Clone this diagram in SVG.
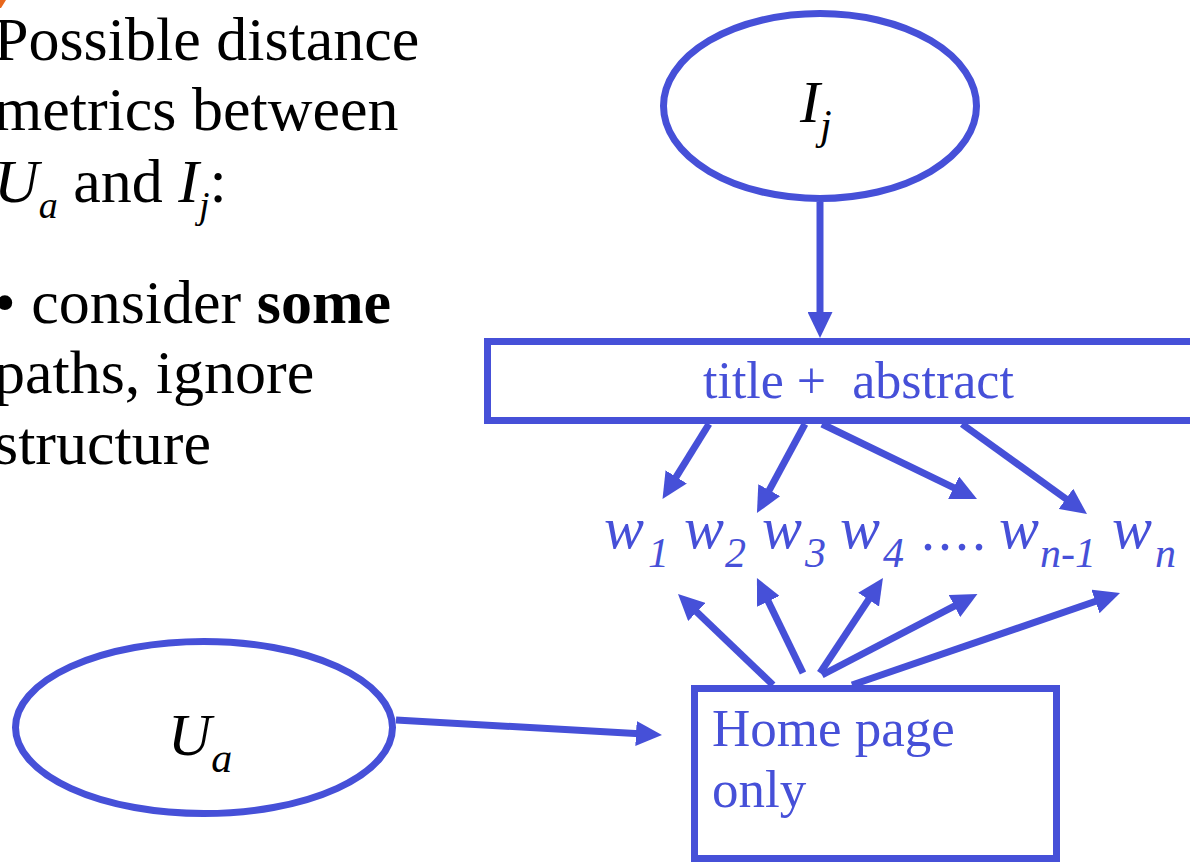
<svg xmlns="http://www.w3.org/2000/svg" width="1190" height="863" viewBox="0 0 1190 863">
<style>
.shape{fill:none;stroke:#4650d8;stroke-width:7}
.conn{stroke:#4650d8;stroke-width:7;fill:none;marker-end:url(#ah)}
.serif{font-family:"Liberation Serif","Times New Roman",serif}
.blk{fill:#000}
.blue{fill:#4650d8}
.it{font-style:italic}
</style>
<defs>
<marker id="ah" viewBox="0 0 26 25" refX="8" refY="12.5" markerWidth="26" markerHeight="25" markerUnits="userSpaceOnUse" orient="auto">
<path d="M0,0 L26,12.5 L0,25 z" fill="#4650d8"/>
</marker>
</defs>
<rect width="1190" height="863" fill="#fff"/>
<polygon points="0,0 6,0 1,8 0,8" fill="#e8671c"/>
<g id="left-text" class="serif blk" font-size="62">
<text x="-6" y="60">Possible distance</text>
<text x="-6" y="130">metrics between</text>
<text x="-6" y="202"><tspan class="it">U</tspan><tspan class="it" font-size="38" dy="16">a</tspan><tspan dy="-16"> and </tspan><tspan class="it">I</tspan><tspan class="it" font-size="38" dy="16">j</tspan><tspan dy="-16">:</tspan></text>
<text x="-6" y="323">• consider <tspan font-weight="bold">some</tspan></text>
<text x="-6" y="393">paths, ignore</text>
<text x="-6" y="464">structure</text>
</g>
<g id="connectors">
<line class="conn" x1="820" y1="202" x2="820" y2="320"/>
<line class="conn" x1="709" y1="424" x2="672" y2="483.7"/>
<line class="conn" x1="805" y1="424" x2="765.5" y2="497.2"/>
<line class="conn" x1="822" y1="424" x2="960.8" y2="491.2"/>
<line class="conn" x1="962" y1="424" x2="1072.4" y2="503.5"/>
<line class="conn" x1="773" y1="685" x2="691" y2="606.5"/>
<line class="conn" x1="803" y1="673" x2="764.8" y2="594.2"/>
<line class="conn" x1="820" y1="673" x2="873" y2="593"/>
<line class="conn" x1="822" y1="675" x2="961.5" y2="602.3"/>
<line class="conn" x1="852" y1="685" x2="1103" y2="598.8"/>
<line class="conn" x1="396" y1="720" x2="644" y2="734"/>
</g>
<g id="node-Ij">
<ellipse class="shape" cx="820" cy="106" rx="156.5" ry="92.5"/>
<text class="serif blk it" x="800" y="122" font-size="60">I<tspan font-size="42" dy="17">j</tspan></text>
</g>
<g id="node-title">
<rect class="shape" x="487.5" y="341.5" width="720" height="79"/>
<text class="serif blue" x="703" y="398" font-size="52" xml:space="preserve">title +  abstract</text>
</g>
<g id="node-words" class="serif blue it">
<text y="548" font-size="60"><tspan x="604">w</tspan><tspan x="648" dy="19" font-size="42">1</tspan><tspan x="684" dy="-19">w</tspan><tspan x="725" dy="19" font-size="42">2</tspan><tspan x="762" dy="-19">w</tspan><tspan x="805" dy="19" font-size="42">3</tspan><tspan x="840" dy="-19">w</tspan><tspan x="883" dy="19" font-size="42">4</tspan></text>
<text x="921" y="550" font-size="56" font-style="normal" letter-spacing="3">....</text>
<text y="548" font-size="60"><tspan x="999">w</tspan><tspan x="1040" dy="19" font-size="42">n-1</tspan><tspan x="1112" dy="-19">w</tspan><tspan x="1155" dy="19" font-size="42">n</tspan></text>
</g>
<g id="node-Ua">
<ellipse class="shape" cx="204" cy="727.5" rx="188.5" ry="86"/>
<text class="serif blk it" x="168" y="755" font-size="60">U<tspan font-size="42" dy="17">a</tspan></text>
</g>
<g id="node-home">
<rect class="shape" x="694.5" y="688.5" width="362" height="170"/>
<text class="serif blue" x="712" y="746" font-size="53">Home page</text>
<text class="serif blue" x="712" y="807" font-size="53">only</text>
</g>
</svg>
